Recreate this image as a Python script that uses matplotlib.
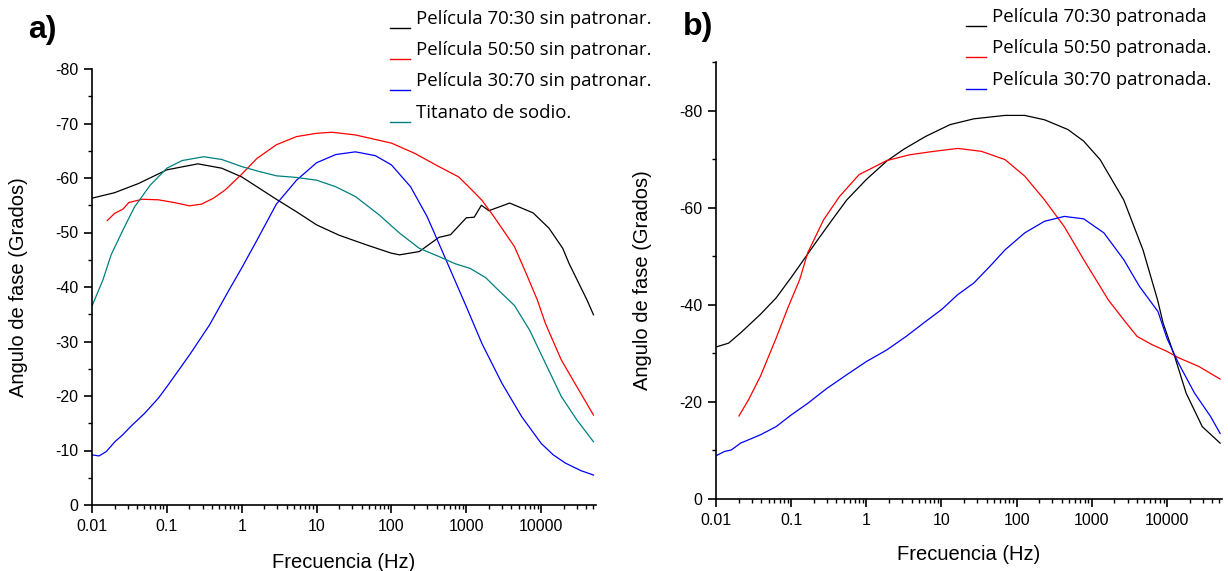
import matplotlib
matplotlib.use('Agg')
import matplotlib.pyplot as plt
from matplotlib.ticker import FixedLocator, LogLocator, MultipleLocator, NullFormatter
from matplotlib.lines import Line2D

plt.rcParams['font.family'] = ['Liberation Sans', 'DejaVu Sans']
plt.rcParams['axes.unicode_minus'] = False

# a) sin patronar
f_a_7030 = [0.01, 0.02, 0.042, 0.1, 0.26, 0.54, 1, 2.9, 5.4, 10, 20, 47, 100, 128, 235, 430, 616,
            1000, 1275, 1590, 2000, 3800, 7800, 12700, 19400, 23600, 41000, 50000]
p_a_7030 = [-56.3, -57.3, -59.0, -61.5, -62.6, -61.8, -60.2, -56.1, -53.8, -51.4, -49.5, -47.7, -46.2, -45.9,
            -46.5, -49.1, -49.6, -52.7, -52.8, -55.0, -54.0, -55.4, -53.6, -50.8, -47.1, -44.3, -37.6, -34.9]

f_a_5050 = [0.016, 0.02, 0.026, 0.031, 0.047, 0.077, 0.125, 0.2, 0.29, 0.42, 0.6, 1, 1.6, 2.9, 5.4, 10, 16,
            33, 100, 206, 430, 790, 1130, 1620, 2340, 4400, 6300, 8900, 11400, 18600, 30000, 50000]
p_a_5050 = [-52.2, -53.5, -54.3, -55.5, -56.1, -56.0, -55.5, -54.9, -55.2, -56.3, -57.8, -60.7, -63.6, -66.1,
            -67.6, -68.2, -68.4, -67.9, -66.4, -64.5, -62.1, -60.2, -58.1, -55.9, -52.9, -47.4, -42.5, -37.6,
            -33.3, -26.6, -21.7, -16.5]

f_a_3070 = [0.01, 0.0124, 0.0155, 0.0202, 0.0258, 0.0329, 0.0503, 0.077, 0.1, 0.2, 0.37, 0.68, 1, 1.6, 2.9,
            5.4, 10, 18, 33, 61, 100, 180, 300, 430, 700, 1000, 1620, 3000, 5500, 10000, 14500, 21000,
            34000, 50000]
p_a_3070 = [-9.2, -9.0, -9.8, -11.6, -12.9, -14.4, -16.8, -19.6, -21.7, -27.5, -33.0, -39.5, -43.5, -48.6,
            -55.2, -59.6, -62.8, -64.3, -64.8, -64.1, -62.4, -58.4, -52.9, -48.0, -41.3, -36.4, -29.6, -22.3,
            -16.2, -11.3, -9.2, -7.7, -6.3, -5.5]

f_a_tit = [0.01, 0.014, 0.018, 0.026, 0.037, 0.06, 0.1, 0.16, 0.31, 0.54, 1, 1.6, 2.9, 5.4, 10, 18, 33, 69,
           128, 235, 430, 700, 1130, 1820, 2600, 4400, 7000, 11400, 18600, 30000, 50000]
p_a_tit = [-36.5, -41.3, -45.9, -50.5, -54.7, -58.7, -61.8, -63.2, -63.9, -63.4, -62.1, -61.3, -60.4, -60.1,
           -59.6, -58.4, -56.6, -53.2, -49.9, -47.1, -45.6, -44.3, -43.4, -41.7, -39.6, -36.6, -32.1, -26.0,
           -19.9, -15.6, -11.6]

# b) patronada
f_b_7030 = [0.01, 0.0147, 0.0212, 0.0388, 0.063, 0.102, 0.21, 0.34, 0.55, 1, 1.87, 3.2, 6.2, 13, 27, 70,
            128, 235, 480, 780, 1290, 2660, 4800, 7500, 8900, 12700, 18000, 29500, 51000]
p_b_7030 = [-31.3, -32.1, -34.2, -38.0, -41.4, -45.8, -52.7, -57.2, -61.6, -65.8, -69.6, -72.1, -74.7, -77.1,
            -78.3, -79.0, -79.0, -78.1, -76.1, -73.7, -69.9, -61.6, -51.3, -41.0, -36.2, -29.3, -21.8, -14.9,
            -11.5]

f_b_5050 = [0.0202, 0.027, 0.0388, 0.063, 0.09, 0.13, 0.166, 0.27, 0.44, 0.8, 1.87, 3.8, 7.9, 16.5, 34, 70,
            128, 235, 430, 780, 1660, 2660, 4000, 6300, 10000, 14200, 26500, 51000]
p_b_5050 = [-17.1, -20.4, -25.2, -33.1, -39.3, -45.2, -50.7, -57.5, -62.3, -66.8, -69.7, -70.9, -71.6, -72.2,
            -71.6, -69.9, -66.5, -61.6, -56.1, -49.3, -41.0, -36.9, -33.5, -31.8, -30.4, -29.1, -27.3, -24.7]

f_b_3070 = [0.01, 0.013, 0.016, 0.0212, 0.0388, 0.063, 0.1, 0.166, 0.3, 0.55, 1, 1.87, 3.4, 6.2, 10, 16.5, 27,
            44, 70, 128, 235, 430, 780, 1450, 2660, 4300, 7600, 10000, 14200, 23300, 38000, 51000]
p_b_3070 = [-8.9, -9.8, -10.1, -11.5, -13.2, -14.9, -17.3, -19.7, -22.8, -25.6, -28.3, -30.7, -33.5, -36.6,
            -39.0, -42.1, -44.5, -47.9, -51.3, -54.8, -57.2, -58.2, -57.7, -54.8, -49.3, -43.8, -38.6, -33.1,
            -28.0, -21.8, -17.0, -13.5]

labels_a = ['Película 70:30 sin patronar.', 'Película 50:50 sin patronar.',
            'Película 30:70 sin patronar.', 'Titanato de sodio.']
labels_b = ['Película 70:30 patronada', 'Película 50:50 patronada.', 'Película 30:70 patronada.']
colors = ['black', 'red', 'blue', '#008080']
xticks = [0.01, 0.1, 1, 10, 100, 1000, 10000]
xlabels = ['0.01', '0.1', '1', '10', '100', '1000', '10000']

W, H = 1228, 571
fig = plt.figure(figsize=(W / 100, H / 100), dpi=100)
ax1 = fig.add_axes([92 / W, (H - 505) / H, 504 / W, 436 / H])
ax2 = fig.add_axes([716 / W, (H - 499) / H, 506 / W, 437 / H])

series_a = [(f_a_7030, p_a_7030), (f_a_5050, p_a_5050), (f_a_3070, p_a_3070), (f_a_tit, p_a_tit)]
series_b = [(f_b_7030, p_b_7030), (f_b_5050, p_b_5050), (f_b_3070, p_b_3070)]

for (f, p), c in zip(series_a, colors):
    ax1.plot(f, p, color=c, lw=0.9)
for (f, p), c in zip(series_b, colors):
    ax2.plot(f, p, color=c, lw=0.9)


def style(ax, ymin, major, minor, xlab_y, ylab_x):
    ax.set_xscale('log')
    ax.set_xlim(0.01, 54000)
    ax.set_ylim(0, ymin)
    ax.xaxis.set_major_locator(FixedLocator(xticks))
    ax.set_xticklabels(xlabels)
    ax.xaxis.set_minor_locator(LogLocator(base=10, subs=range(2, 10), numticks=20))
    ax.xaxis.set_minor_formatter(NullFormatter())
    ax.yaxis.set_major_locator(MultipleLocator(major))
    ax.yaxis.set_minor_locator(MultipleLocator(minor))
    ax.yaxis.set_major_formatter(plt.FuncFormatter(lambda v, _: '%d' % v))
    for s in ['top', 'right']:
        ax.spines[s].set_visible(False)
    for s in ['left', 'bottom']:
        ax.spines[s].set_linewidth(1.2)
    ax.tick_params(which='major', direction='out', length=5.8, width=1.2, labelsize=11.5, pad=4)
    ax.tick_params(which='minor', direction='out', length=3.2, width=1.0)
    ax.set_xlabel('Frecuencia (Hz)', fontsize=14.5)
    ax.set_ylabel('Angulo de fase (Grados)', fontsize=14.5)
    ax.xaxis.set_label_coords(0.5, xlab_y)
    ax.xaxis.label.set_va('center')
    ax.yaxis.set_label_coords(ylab_x, 0.5)
    ax.yaxis.label.set_va('center')


style(ax1, -80, 10, 5, -(562 - 505) / 436, -(92 - 19) / 504)
style(ax2, -90, 20, 10, -(555 - 499) / 437, -(716 - 642) / 506)
ax2.set_yticks([0, -20, -40, -60, -80])

fig.text(28 / W, 1 - 30 / H, 'a)', fontsize=23, fontweight='bold', va='center', ha='left')
fig.text(683 / W, 1 - 27 / H, 'b)', fontsize=23, fontweight='bold', va='center', ha='left')


def legend(x0, ys, labels, cols):
    for y, lab, c in zip(ys, labels, cols):
        fig.add_artist(Line2D([x0 / W, (x0 + 20) / W], [1 - (y + 9) / H] * 2, color=c, lw=1.0))
        fig.text((x0 + 26) / W, 1 - y / H, lab, fontsize=13.4, va='center', ha='left',
                 family=['Open Sans', 'DejaVu Sans'])


legend(390, [19, 50, 81, 113], labels_a, colors)
legend(966, [17, 48, 80], labels_b, colors)

fig.savefig('out.png', dpi=100)
